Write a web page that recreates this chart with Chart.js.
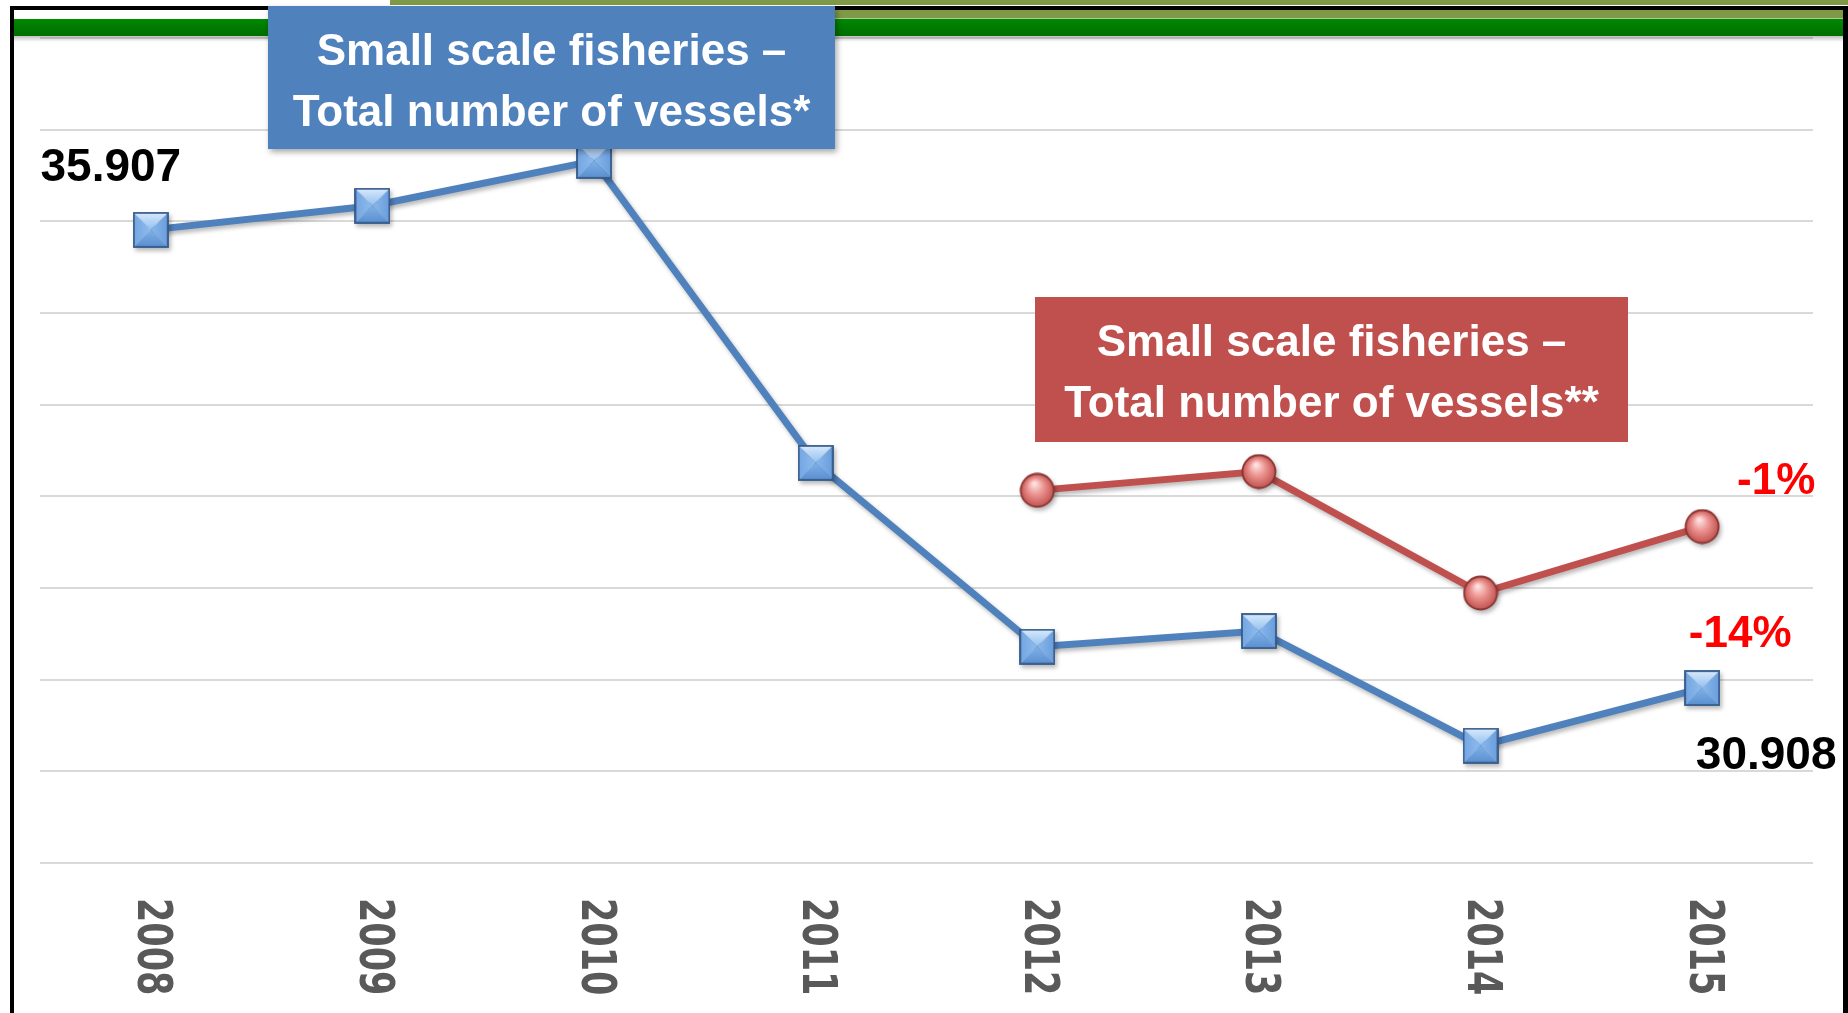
<!DOCTYPE html>
<html lang="en">
<head>
<meta charset="utf-8">
<title>Small scale fisheries – Total number of vessels</title>
<script src="https://cdn.jsdelivr.net/npm/chart.js@4.4.1/dist/chart.umd.min.js"></script>
<style>
  html, body { margin: 0; padding: 0; background: #ffffff; overflow: hidden; }
  #graphique { display: block; }
</style>
</head>
<body>
<canvas id="graphique" width="1848" height="1013"></canvas>
<script>
// Données
const annees = ['2008', '2009', '2010', '2011', '2012', '2013', '2014', '2015'];
const naviresTotal = [35907, 36170, 36660, 33365, 31360, 31530, 30280, 30908];
const naviresTotal2 = [null, null, null, null, 33065, 33270, 31945, 32670];
const yMin = 29000;
const yMax = 38000;
const yPas = 1000;
const etiquettesValeurs = ['35.907', '30.908'];
const etiquettesVariation = ['-14%', '-1%'];
const titreBleu = ['Small scale fisheries –', 'Total number of vessels*'];
const titreRouge = ['Small scale fisheries –', 'Total number of vessels**'];

const BLEU = '#4F81BD';
const ROUGE = '#C0504D';
const POLICE = '"Liberation Sans", Arial, sans-serif';

// Marqueur carré biseauté (bleu)
function carreBleu() {
    const c = document.createElement('canvas');
    c.width = 36; c.height = 36;
    const g = c.getContext('2d');
    const a = 1, b = 35, m = 18;
    function face(pts, fill) {
        g.beginPath();
        g.moveTo(pts[0][0], pts[0][1]);
        for (let i = 1; i < pts.length; i++) g.lineTo(pts[i][0], pts[i][1]);
        g.closePath();
        g.fillStyle = fill;
        g.fill();
    }
    let gr = g.createLinearGradient(0, a, 0, m);
    gr.addColorStop(0, '#D8E9FC');
    gr.addColorStop(1, '#92C0F0');
    face([[a, a], [b, a], [m, m]], gr);
    gr = g.createLinearGradient(a, 0, m, 0);
    gr.addColorStop(0, '#74A6E2');
    gr.addColorStop(1, '#8EBCEE');
    face([[a, a], [m, m], [a, b]], gr);
    gr = g.createLinearGradient(b, 0, m, 0);
    gr.addColorStop(0, '#6A9DDC');
    gr.addColorStop(1, '#8AB9EC');
    face([[b, a], [b, b], [m, m]], gr);
    gr = g.createLinearGradient(0, b, 0, m);
    gr.addColorStop(0, '#5A8FD0');
    gr.addColorStop(1, '#80B1E8');
    face([[a, b], [m, m], [b, b]], gr);
    g.strokeStyle = '#34598A';
    g.lineWidth = 1.8;
    g.strokeRect(a, a, b - a, b - a);
    return c;
}

// Marqueur rond en relief (rouge)
function rondRouge() {
    const c = document.createElement('canvas');
    c.width = 36; c.height = 36;
    const g = c.getContext('2d');
    const gr = g.createRadialGradient(15, 11, 1, 18, 18, 17);
    gr.addColorStop(0, '#FDE3E2');
    gr.addColorStop(0.45, '#EC9491');
    gr.addColorStop(1, '#C0504D');
    g.beginPath();
    g.arc(18, 18, 16.5, 0, Math.PI * 2);
    g.fillStyle = gr;
    g.fill();
    g.strokeStyle = '#8A3431';
    g.lineWidth = 1.8;
    g.stroke();
    return c;
}

// Écrire un texte avec étirement éventuel
function ecrire(ctx, texte, x, y, police, couleur, align, sx, sy) {
    ctx.save();
    ctx.translate(x, y);
    ctx.scale(sx || 1, sy || 1);
    ctx.font = police;
    ctx.fillStyle = couleur;
    ctx.textAlign = align || 'left';
    ctx.textBaseline = 'alphabetic';
    ctx.fillText(texte, 0, 0);
    ctx.restore();
}

// Encadré coloré avec deux lignes de titre
function encadre(ctx, x, y, w, h, fond, lignes, ombre) {
    ctx.save();
    if (ombre) {
        ctx.shadowColor = 'rgba(0,0,0,0.35)';
        ctx.shadowBlur = 6;
        ctx.shadowOffsetX = 2;
        ctx.shadowOffsetY = 3;
    }
    ctx.fillStyle = fond;
    ctx.fillRect(x, y, w, h);
    ctx.restore();
    lignes.forEach(function(l, i) {
        ecrire(ctx, l, x + w / 2, y + 59 + i * 61, 'bold 44px ' + POLICE, '#ffffff', 'center');
    });
}

// Ombre légère sous les courbes
const ombreCourbes = {
    id: 'ombreCourbes',
    beforeDatasetDraw(chart) {
        const ctx = chart.ctx;
        ctx.save();
        ctx.shadowColor = 'rgba(0,0,0,0.28)';
        ctx.shadowBlur = 4;
        ctx.shadowOffsetX = 2;
        ctx.shadowOffsetY = 3;
    },
    afterDatasetDraw(chart) {
        chart.ctx.restore();
    }
};

// Bandeau, cadre, encadrés et étiquettes
const decor = {
    id: 'decor',
    beforeDraw(chart) {
        const ctx = chart.ctx;
        ctx.save();
        ctx.fillStyle = '#ffffff';
        ctx.fillRect(0, 0, chart.width, chart.height);
        ctx.restore();
    },
    afterDraw(chart) {
        const ctx = chart.ctx;
        const W = chart.width, H = chart.height;
        ctx.save();
        // bandeau du haut
        ctx.fillStyle = '#7F9A47';
        ctx.fillRect(390, 0, W - 390, 5);
        ctx.fillRect(390, 10, W - 395, 8);
        ctx.fillStyle = '#B8C4A0';
        ctx.fillRect(390, 18, W - 395, 1);
        let gr = ctx.createLinearGradient(0, 19, 0, 36);
        gr.addColorStop(0, '#008A00');
        gr.addColorStop(0.5, '#007A00');
        gr.addColorStop(1, '#006E00');
        ctx.fillStyle = gr;
        ctx.fillRect(14, 19, W - 19, 17);
        gr = ctx.createLinearGradient(0, 36, 0, 42);
        gr.addColorStop(0, 'rgba(0,0,0,0.25)');
        gr.addColorStop(1, 'rgba(0,0,0,0)');
        ctx.fillStyle = gr;
        ctx.fillRect(14, 36, W - 19, 6);
        // cadre noir
        ctx.fillStyle = '#000000';
        ctx.fillRect(10, 6, W - 10, 4);
        ctx.fillRect(10, 6, 4, H - 6);
        ctx.fillRect(W - 5, 6, 5, H - 6);
        ctx.restore();

        // encadrés de titre
        encadre(ctx, 268, 6, 567, 143, BLEU, titreBleu, true);
        encadre(ctx, 1035, 297, 593, 145, ROUGE, titreRouge, false);

        // années, pivotées vers le bas
        const x = chart.scales.x;
        const basZone = chart.chartArea.bottom;
        annees.forEach(function(a, i) {
            const px = x.getPixelForTick(i);
            ctx.save();
            ctx.translate(px, basZone + 35);
            ctx.rotate(Math.PI / 2);
            ctx.scale(1, 1.38);
            ctx.font = 'bold 35px "DejaVu Sans", Verdana, sans-serif';
            ctx.fillStyle = '#595959';
            ctx.textAlign = 'left';
            ctx.textBaseline = 'middle';
            ctx.fillText(a, 0, 0);
            ctx.restore();
        });

        // valeurs et variations, placées par rapport aux points
        const pb = chart.getDatasetMeta(0).data;
        const pr = chart.getDatasetMeta(1).data;
        const dernier = annees.length - 1;
        const pVal = 'bold 46px ' + POLICE;
        ecrire(ctx, etiquettesValeurs[0], pb[0].x - 40, pb[0].y - 49, pVal, '#000000', 'center');
        ecrire(ctx, etiquettesValeurs[1], pb[dernier].x + 64, pb[dernier].y + 81, pVal, '#000000', 'center');
        const pVar = 'bold 44px ' + POLICE;
        ecrire(ctx, etiquettesVariation[0], pb[dernier].x + 38, pb[dernier].y - 41, pVar, '#FF0000', 'center');
        ecrire(ctx, etiquettesVariation[1], pr[dernier].x + 74, pr[dernier].y - 33, pVar, '#FF0000', 'center');
    }
};

document.addEventListener('DOMContentLoaded', function() {
    const ctx = document.getElementById('graphique').getContext('2d');

    new Chart(ctx, {
        type: 'line',
        data: {
            labels: annees,
            datasets: [{
                data: naviresTotal,
                borderColor: BLEU,
                borderWidth: 7,
                tension: 0,
                pointStyle: carreBleu(),
                pointRadius: 17,
                spanGaps: false
            }, {
                data: naviresTotal2,
                borderColor: ROUGE,
                borderWidth: 7,
                tension: 0,
                pointStyle: rondRouge(),
                pointRadius: 17,
                spanGaps: false
            }]
        },
        options: {
            responsive: false,
            animation: false,
            events: [],
            layout: {
                padding: { left: 40, right: 35, top: 38, bottom: 150 }
            },
            plugins: {
                legend: { display: false },
                tooltip: { enabled: false }
            },
            scales: {
                x: {
                    display: false,
                    offset: true
                },
                y: {
                    min: yMin,
                    max: yMax,
                    ticks: { stepSize: yPas, display: false },
                    grid: { color: '#D9D9D9', lineWidth: 2, drawTicks: false },
                    border: { display: false }
                }
            }
        },
        plugins: [decor, ombreCourbes]
    });
});
</script>
</body>
</html>
